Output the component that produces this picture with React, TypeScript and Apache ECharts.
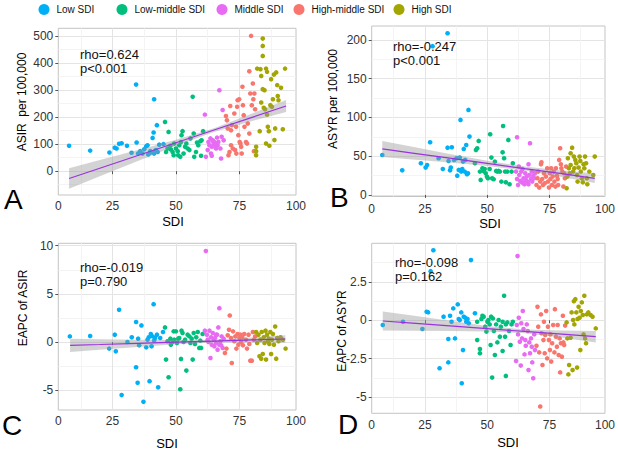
import React, { useEffect, useRef } from 'react';
import * as echarts from 'echarts';

const groups = ['Low SDI', 'Low-middle SDI', 'Middle SDI', 'High-middle SDI', 'High SDI'];
const groupColors = ['#00B0F6', '#00BF7D', '#E76BF3', '#F8766D', '#A3A500'];

const xMin = 3.65;
const xMax = 97.3;
const xTickValues = [25, 50, 75];
const xMinorValues = [12.5, 37.5, 62.5, 87.5];
const xLabelTexts = ['0', '25', '50', '75', '100'];

// ---------- Panel A: ASIR per 100,000 ----------
const aLow = [[7.9,94],[16.2,76],[23.8,69],[25.9,87],[26.6,84],[27.6,101],[28.6,103],[30.7,94],[32.5,68],[34.5,106],[34.3,320],[35.1,65],[35.9,74],[36.8,65],[37.5,81],[38.3,92],[39.1,62],[39.9,74],[40.1,69],[40.8,123],[41.2,143],[41.4,266],[41.4,65],[41.7,74],[42.1,78],[42.5,170],[42.8,71],[43.4,98],[45.1,100],[38.8,96]];
const aLowMid = [[45.7,182],[47.1,145],[46.1,71],[46.7,84],[47.8,94],[48,80],[48.7,71],[49.1,59],[49.3,102],[50,84],[50.7,74],[50.9,59],[51.3,96],[51.7,53],[52,108],[52.2,133],[52.6,148],[53,65],[53.6,90],[54.1,102],[54.6,84],[55.3,78],[55.7,121],[56.6,275],[57,139],[57.2,53],[57.9,71],[58.3,106],[58.8,96],[59.6,111],[60.1,114],[60.7,148],[59.9,57]];
const aMid = [[61.4,209],[61.8,53],[62.5,78],[62.8,108],[63.2,96],[63.6,121],[63.8,65],[64.1,57],[64.5,114],[64.9,102],[65.1,108],[65.4,90],[65.8,84],[66.2,124],[66.4,96],[67.1,299],[67.8,47],[68,127],[68.4,226],[68.8,114],[67.5,84],[64.1,90],[65.8,102],[64.6,111],[66.7,108]];
const aHighMid = [[69.7,204],[70.1,188],[70.4,158],[70.7,59],[71.1,71],[71.4,241],[71.7,96],[72,170],[72.4,84],[73,213],[73.3,78],[73.7,164],[74.1,238],[74.3,262],[74.6,133],[74.9,266],[75.1,108],[75.4,102],[75.7,90],[75.9,65],[76.2,312],[76.4,244],[76.7,207],[77,164],[77.6,108],[78.3,176],[78.9,369],[79.3,287],[79.6,500],[79.9,244],[80.3,324],[80.5,266],[80.9,287],[81.2,229],[80.7,74],[78.9,139],[78,102],[73.8,65],[71.7,151]];
const aHigh = [[81.6,90],[81.6,74],[81.6,59],[82,379],[83.3,377],[83,148],[83.6,352],[84.2,490],[84.2,463],[84.2,426],[84.2,303],[84.9,299],[85.5,379],[85.9,367],[84.6,234],[85.1,229],[85.5,102],[86.2,164],[86.6,148],[86.8,94],[87.2,244],[87.5,340],[87.8,238],[88.2,266],[88.6,357],[88.8,115],[89.1,158],[89.5,365],[89.9,318],[90.1,278],[90.4,262],[91.4,308],[92.1,155],[93,379],[85.9,209],[83.6,254]];
const aBandX = [7.9, 20, 35, 50, 65, 80, 93.4];
const aFit = [-27, 11, 58, 105, 152, 199, 241];
const aLower = [-65, -19, 38, 94, 145, 185, 219];
const aUpper = [11, 41, 78, 116, 159, 213, 263];

// ---------- Panel B: ASYR per 100,000 ----------
const bLow = [[7.9,51.6],[15.9,31.8],[23.4,40.9],[25.3,35.3],[25.9,38.7],[27.1,68],[28.1,192],[30.5,47.3],[32.2,33.5],[34.1,61],[34.1,208.6],[34.5,43.9],[35.1,31.8],[35.4,35.3],[35.8,61.5],[36.7,45.2],[37.7,47.3],[38,24.9],[38.6,32.3],[39,48.2],[39.3,96.8],[39.6,30.1],[40,33.5],[40.3,43],[40.6,59.4],[41,30.1],[41.6,64.5],[41.9,26.7],[42.3,28],[42.5,109.7],[42.9,75.3],[41.2,45.2]];
const bLowMid = [[45.1,40.9],[45.5,58.1],[46,60.2],[46.6,69.7],[47.1,30.1],[47.4,19.4],[48.1,34.4],[48.6,31],[49,33.5],[49.4,28],[49.9,23.7],[50.3,21.5],[51,33.5],[51.2,78.3],[51.7,48.2],[52,21.5],[52.6,20.2],[53.1,43],[53.6,31],[54.1,30.1],[54.6,31],[55.1,30.1],[55.7,17.2],[56.2,55],[56.4,89],[56.8,47.3],[57.2,30.1],[57.5,16.3],[58.1,30.1],[58.5,71],[59,13.8],[59.8,30.1],[60.3,40.9]];
const bMid = [[62,74.4],[61.6,30.1],[62,20.6],[62.4,12.9],[62.7,36.6],[62.9,25.8],[63.3,18.1],[63.7,30.1],[64,16.3],[64.2,33.5],[64.6,21.5],[65,13.8],[65.3,28],[65.5,19.4],[65.9,23.7],[66.3,17.2],[66.6,39.6],[66.9,25.8],[67.2,66.7],[67.6,20.6],[67.9,30.1],[68.1,17.2],[68.5,24.9],[68.9,21.5],[69.2,28],[66.6,13.8],[64.6,15.1]];
const bHighMid = [[69.8,12.9],[70.2,21.5],[70.5,30.1],[70.9,9.5],[71.3,17.2],[71.6,39.6],[71.8,42.2],[72.1,20.6],[72.4,12.9],[72.8,28],[73.1,15.1],[73.6,23.7],[74.1,34.4],[74.4,17.2],[74.8,9.5],[75.2,28],[75.4,20.6],[75.7,34.4],[76,12.9],[76.3,23.7],[76.7,30.1],[77,17.2],[77.4,10.8],[77.6,34.4],[78,24.9],[78.3,20.6],[78.5,12.9],[78.9,45.2],[79.3,60.2],[79.6,39.6],[79.8,34.4],[80.2,30.1],[80.6,10.8],[80.9,28],[81.2,21.5],[81.7,36.6]];
const bHigh = [[81.9,8.6],[82.2,23.7],[82.4,47.3],[82.8,34.4],[83.2,28],[83.5,38.7],[84.1,61],[84.5,30.1],[84.8,49.5],[85,34.4],[85.4,45.2],[85.8,40.9],[86.1,25.8],[86.3,17.2],[86.7,35.3],[87.1,49.5],[87.4,43.9],[87.6,30.1],[88,21.5],[88.4,16.3],[88.7,39.6],[89,34.4],[89.3,49.5],[89.7,40.9],[90,21.5],[90.2,13.8],[91,30.1],[92.6,25.8],[93.2,49.5],[83.5,53.8]];
const bBandX = [7.9, 20, 35, 50, 65, 80, 93.2];
const bFit = [59.4, 54.0, 47.4, 40.7, 34.0, 27.4, 21.5];
const bLower = [49.1, 45.8, 41.8, 37.3, 31.4, 23.3, 15.3];
const bUpper = [69.7, 62.2, 53.0, 44.1, 36.6, 31.5, 27.7];

// ---------- Panel C: EAPC of ASIR ----------
const cLow = [[8.2,0.59],[16.2,0.63],[23.7,-0.68],[25.9,0.77],[26.3,-0.96],[27.6,3.35],[28.6,-5.5],[30.9,0.01],[32.6,0.49],[34.3,2.08],[34.3,-2.61],[34.9,-4.23],[35.1,0.35],[35.5,-0.34],[36.4,1.73],[37.2,-6.2],[38.3,-0.55],[38.8,0.25],[39.3,0.49],[39.6,-4.06],[40.1,0.84],[40.4,-0.44],[40.8,0.59],[41.2,3.93],[41.4,0.15],[41.8,0.42],[42.5,0.77],[43,-4.7],[43.8,0.42],[44.9,1.04]];
const cLowMid = [[45.7,1.52],[46.1,-1.82],[46.7,0.08],[47.1,-3.65],[47.8,0.35],[48,-0.27],[48.7,0.01],[49.1,1.11],[49.3,0.25],[50,1.11],[50.4,-0.1],[50.9,0.35],[51.3,0.42],[51.7,-4.9],[52,-1.75],[52.2,1.18],[52.6,0.94],[53,0.01],[53.6,0.25],[54.1,-2.96],[54.6,0.77],[55.3,0.59],[55.7,-0.1],[56.2,0.35],[56.6,-1.82],[57,0.94],[57.5,-0.2],[58,0.49],[58.6,1.04],[59.2,-0.61],[59.6,0.15],[59.9,-0.61],[60.5,0.84]];
const cMid = [[61.8,9.45],[61.4,1.18],[62.2,0.77],[62.5,0.25],[62.8,0.01],[63.2,1.18],[63.6,-1.65],[63.8,0.49],[64.1,-0.27],[64.5,0.94],[64.9,0.25],[65.1,-0.44],[65.4,0.42],[65.8,-0.1],[66.2,0.77],[66.4,-0.79],[66.7,1.52],[67.1,3.52],[67.5,0.08],[67.8,-0.34],[68,0.59],[68.4,-0.61],[68.8,0.35],[67.1,-0.27],[65.8,0.77]];
const cHighMid = [[69.3,-1.13],[69.9,-0.68],[70.4,0.7],[70.9,1.28],[71.2,2.76],[71.7,0.42],[72,-2.17],[72.5,1.11],[73,0.08],[73.4,0.59],[73.8,-0.68],[74.3,0.84],[74.6,-0.27],[75,0.42],[75.4,0.77],[75.7,0.01],[76.1,0.49],[76.4,-0.34],[76.9,0.84],[77.6,0.25],[78,-0.68],[78.6,0.77],[78.9,-0.2],[79.3,-1.93],[79.9,-1.93],[80.3,1.04],[80.7,0.25],[81.2,0.59]];
const cHigh = [[81.6,1.04],[82,-0.1],[82.5,0.77],[82.9,-1.48],[83.3,0.25],[83.6,-1.72],[83.8,1.04],[84.2,-1.24],[84.6,0.49],[84.9,-0.1],[85.3,1.18],[85.5,-1.82],[85.9,0.77],[86.2,0.08],[86.6,0.35],[86.8,-0.2],[87.2,1.04],[87.5,-1.24],[87.8,0.25],[88.2,0.84],[88.6,-0.27],[89.1,1.62],[89.5,-1.72],[89.9,0.42],[90.4,0.08],[91.2,0.49],[92.1,0.25],[93.2,-0.68]];
const cBandX = [8.3, 20, 35, 50, 65, 80, 93.1];
const cFit = [-0.34, -0.25, -0.13, -0.015, 0.10, 0.22, 0.32];
const cLower = [-1.03, -0.80, -0.51, -0.23, -0.05, -0.04, -0.08];
const cUpper = [0.35, 0.30, 0.25, 0.21, 0.25, 0.48, 0.72];

// ---------- Panel D: EAPC of ASYR ----------
const dLow = [[8.1,-0.31],[16.2,-0.1],[24,-0.57],[25.7,0.55],[26.3,0.51],[27.3,3.19],[28.4,4.55],[30.9,-3.12],[32.5,0.23],[34.4,-1.22],[34.4,-2.74],[35.1,0.29],[35.7,-0.1],[36.4,0.77],[37.1,-1.18],[38.2,1.03],[38.6,0.08],[39,0.01],[39.6,0.51],[39.8,-4.1],[40.3,-1.94],[40.6,0.23],[41.2,0.16],[41.6,-0.1],[42.1,0.08],[42.6,-0.2],[43.5,3.91],[45.1,0.45]];
const dLowMid = [[46,-0.1],[46,-1.29],[47.1,-1.87],[47.1,-2.15],[47.7,0.08],[48.1,0.29],[48.6,0.23],[49.2,-0.42],[49.7,-0.74],[50.1,-0.1],[50.5,0.01],[51,-0.27],[51.4,-1.61],[51.6,0.23],[52,-3.73],[52.3,0.12],[52.7,-0.7],[53.1,-2.26],[53.6,-0.27],[54.1,-1.44],[54.6,0.01],[55.1,-1.07],[55.5,-0.42],[56.2,-2.0],[56.8,1.59],[57.2,-1.07],[57.5,-3.62],[58.1,-0.14],[58.8,-0.7],[59.4,-1.61],[59.8,-0.27],[60.3,-0.1],[57.5,-0.27],[56.2,-0.1]];
const dMid = [[61.6,-2.65],[61.9,-0.31],[62.2,4.17],[62.4,-0.92],[62.7,0.16],[63.1,-1.4],[63.5,-2.95],[63.7,-0.2],[64,-1.18],[64.3,0.6],[64.6,-0.57],[65,-2.22],[65.3,-1.29],[65.5,-1.66],[65.9,-0.27],[66.3,-0.7],[66.6,-3.24],[66.9,-1.44],[67.2,-2.15],[67.6,-1.18],[67.9,-1.72],[68.1,-2.74],[68.5,-3.77],[68.9,-0.92],[69.2,-1.94]];
const dHighMid = [[69.8,-1.66],[70.2,0.87],[70.5,-0.42],[70.9,-2.09],[71.3,-5.61],[71.6,0.38],[71.8,-0.85],[72.2,-2.91],[72.6,-1.29],[72.8,-0.1],[73.1,-2.15],[73.3,-0.96],[73.7,0.6],[74.1,-2.48],[74.4,-0.42],[74.8,-1.29],[75.2,-1.94],[75.4,-0.92],[75.7,-2.69],[76.1,-1.5],[76.5,-0.31],[77,-2.09],[77.2,0.72],[77.6,-1.07],[78,-1.72],[78.3,-0.31],[78.7,-2.26],[79.1,-1.18],[79.3,-3.39],[79.6,-1.5],[80,-2.37],[80.4,0.29],[80.6,-1.44],[80.9,-1.61],[81.3,-0.35]];
const dHigh = [[81.9,-0.14],[82.2,-1.18],[82.6,-3.52],[82.9,-2.91],[83.5,-1.14],[83.9,0.51],[84.3,-3.24],[84.5,0.01],[84.8,1.24],[85,-0.27],[85.4,1.37],[85.8,0.51],[86.1,-3.08],[86.3,0.08],[86.7,0.87],[87.1,0.16],[87.4,-1.94],[87.6,0.6],[88,1.16],[88.4,0.34],[88.7,-0.92],[89,1.59],[89.3,-1.18],[89.7,-1.5],[90,0.38],[90.6,0.51],[91.5,0.34],[92.3,0.23],[93.6,-0.53]];
const dBandX = [8.1, 20, 35, 50, 65, 80, 93.6];
const dFit = [-0.05, -0.19, -0.37, -0.55, -0.73, -0.90, -1.07];
const dLower = [-0.67, -0.68, -0.70, -0.73, -0.85, -1.13, -1.44];
const dUpper = [0.57, 0.30, -0.04, -0.37, -0.61, -0.67, -0.70];

const yTitles = ['ASIR  per 100,000', 'ASYR per 100,000', 'EAPC of ASIR', 'EAPC of ASYR'];
const rhoTexts = ['rho=0.624', 'rho=-0.247', 'rho=-0.019', 'rho=-0.098'];
const pTexts = ['p<0.001', 'p<0.001', 'p=0.790', 'p=0.162'];
const panelLetters = ['A', 'B', 'C', 'D'];

const aYTicks = [0, 100, 200, 300, 400, 500];
const bYTicks = [0, 50, 100, 150, 200];
const cYTicks = [-5, 0, 5, 10];
const dYTicks = [-5, -2.5, 0, 2.5];

const FONT = '"Liberation Sans", Arial, Helvetica, sans-serif';

const panels = [
  {
    grid: { left: 58.3, top: 28.3, width: 237.7, height: 166.7 },
    yMin: -88, yMax: 528, yTicks: aYTicks, yMinor: [-50, 50, 150, 250, 350, 450],
    groupsData: [aLow, aLowMid, aMid, aHighMid, aHigh],
    band: { x: aBandX, fit: aFit, lo: aLower, hi: aUpper },
    stat: { x: 80, y: 47 }, letter: { x: 4, y: 199 }, yTitle: { x: 22, y: 102 }, xTitle: { x: 173, y: 221 },
    xLabelMargin: 5,
  },
  {
    grid: { left: 371.7, top: 26, width: 240, height: 170.5 },
    yMin: -2, yMax: 218, yTicks: bYTicks, yMinor: [25, 75, 125, 175],
    groupsData: [bLow, bLowMid, bMid, bHighMid, bHigh],
    band: { x: bBandX, fit: bFit, lo: bLower, hi: bUpper },
    stat: { x: 393, y: 39 }, letter: { x: 330, y: 197 }, yTitle: { x: 333, y: 99 }, xTitle: { x: 490, y: 223 },
    xLabelMargin: 6,
  },
  {
    grid: { left: 58.3, top: 243.3, width: 237.7, height: 166.7 },
    yMin: -7.05, yMax: 10.25, yTicks: cYTicks, yMinor: [-2.5, 2.5, 7.5],
    groupsData: [cLow, cLowMid, cMid, cHighMid, cHigh],
    band: { x: cBandX, fit: cFit, lo: cLower, hi: cUpper },
    stat: { x: 80, y: 260 }, letter: { x: 2, y: 425 }, yTitle: { x: 23, y: 308 }, xTitle: { x: 167, y: 443 },
    xLabelMargin: 5,
  },
  {
    grid: { left: 371.7, top: 243.3, width: 240, height: 170 },
    yMin: -6.05, yMax: 5.0, yTicks: dYTicks, yMinor: [-3.75, -1.25, 1.25, 3.75],
    groupsData: [dLow, dLowMid, dMid, dHighMid, dHigh],
    band: { x: dBandX, fit: dFit, lo: dLower, hi: dUpper },
    stat: { x: 395, y: 255 }, letter: { x: 338, y: 424 }, yTitle: { x: 342, y: 331 }, xTitle: { x: 508, y: 442 },
    xLabelMargin: 6,
  },
];

const legendCenters = [44, 122, 222, 299, 399];

function xLabelFormatter(v: number) {
  const vals = [xMin, 25, 50, 75, xMax];
  let best = 0;
  for (let i = 1; i < vals.length; i++) if (Math.abs(vals[i] - v) < Math.abs(vals[best] - v)) best = i;
  return xLabelTexts[best];
}

function buildOption() {
  const grid: any[] = [];
  const xAxis: any[] = [];
  const yAxis: any[] = [];
  const series: any[] = [];
  const graphic: any[] = [];

  panels.forEach((p, gi) => {
    grid.push({ ...p.grid, show: true, backgroundColor: '#ffffff', borderColor: '#c4c4c4', borderWidth: 1 });
    xAxis.push({
      type: 'value', gridIndex: gi, min: xMin, max: xMax,
      axisLine: { show: false },
      axisTick: { show: true, length: 3, lineStyle: { color: '#555' }, customValues: xTickValues },
      axisLabel: {
        show: true, customValues: [xMin, ...xTickValues, xMax], formatter: xLabelFormatter,
        color: '#333', fontSize: 12, fontFamily: FONT, margin: p.xLabelMargin, showMinLabel: true, showMaxLabel: true,
      },
      splitLine: { show: true, lineStyle: { color: '#e4e4e4', width: 1 } },
    });
    xAxis.push({
      type: 'value', gridIndex: gi, min: xMin, max: xMax, position: 'bottom',
      axisLine: { show: false }, axisLabel: { show: false },
      axisTick: { show: false, customValues: xMinorValues },
      splitLine: { show: true, lineStyle: { color: '#f1f1f1', width: 0.8 } },
    });
    yAxis.push({
      type: 'value', gridIndex: gi, min: p.yMin, max: p.yMax,
      axisLine: { show: false },
      axisTick: { show: true, length: 3, lineStyle: { color: '#555' }, customValues: p.yTicks },
      axisLabel: { show: true, customValues: p.yTicks, color: '#333', fontSize: 12, fontFamily: FONT, margin: 5, formatter: (v: number) => String(v) },
      splitLine: { show: true, lineStyle: { color: '#e4e4e4', width: 1 } },
    });
    yAxis.push({
      type: 'value', gridIndex: gi, min: p.yMin, max: p.yMax, position: 'left',
      axisLine: { show: false }, axisLabel: { show: false },
      axisTick: { show: false, customValues: p.yMinor },
      splitLine: { show: true, lineStyle: { color: '#f1f1f1', width: 0.8 } },
    });

    const xi = gi * 2;
    const yi = gi * 2;
    p.groupsData.forEach((d, k) => {
      series.push({
        type: 'scatter', name: groups[k], xAxisIndex: xi, yAxisIndex: yi, data: d,
        symbol: 'circle', symbolSize: 4.6, itemStyle: { color: groupColors[k], opacity: 1 }, z: 2,
      });
    });
    const b = p.band;
    series.push({
      type: 'custom', name: 'band' + gi, xAxisIndex: xi, yAxisIndex: yi, silent: true, z: 3,
      data: b.x.map((x, i) => [x, b.lo[i], b.hi[i]]),
      renderItem: (params: any, api: any) => {
        if (params.dataIndex !== 0) return { type: 'group', children: [] };
        const pts: number[][] = [];
        for (let i = 0; i < b.x.length; i++) pts.push(api.coord([b.x[i], b.hi[i]]));
        for (let i = b.x.length - 1; i >= 0; i--) pts.push(api.coord([b.x[i], b.lo[i]]));
        return { type: 'polygon', shape: { points: pts }, style: { fill: 'rgba(150,150,150,0.42)' } };
      },
    });
    series.push({
      type: 'line', name: 'fit' + gi, xAxisIndex: xi, yAxisIndex: yi, z: 4, silent: true,
      data: b.x.map((x, i) => [x, b.fit[i]]), showSymbol: false, symbol: 'none',
      lineStyle: { color: '#9A32E0', width: 1.2 },
    });

    graphic.push({
      type: 'text', x: p.stat.x, y: p.stat.y, z: 10,
      style: { text: rhoTexts[gi] + '\n' + pTexts[gi], fontSize: 13, fontFamily: FONT, fill: '#111', lineHeight: 14, align: 'left', verticalAlign: 'top' },
    });
    graphic.push({
      type: 'text', x: p.letter.x, y: p.letter.y, z: 10,
      style: { text: panelLetters[gi], fontSize: 28, fontFamily: FONT, fill: '#000', align: 'left', verticalAlign: 'middle' },
    });
    graphic.push({
      type: 'text', x: p.yTitle.x, y: p.yTitle.y, rotation: Math.PI / 2, z: 10,
      style: { text: yTitles[gi], fontSize: 12, fontFamily: FONT, fill: '#000', align: 'center', verticalAlign: 'middle' },
    });
    graphic.push({
      type: 'text', x: p.xTitle.x, y: p.xTitle.y, z: 10,
      style: { text: 'SDI', fontSize: 13, fontFamily: FONT, fill: '#000', align: 'center', verticalAlign: 'middle' },
    });
  });

  const legend = groups.map((g, k) => ({
    left: legendCenters[k] - 5.5, top: 4, data: [g], icon: 'circle', itemWidth: 11, itemHeight: 11,
    itemGap: 0, padding: 0, selectedMode: false,
    textStyle: { fontSize: 10, fontFamily: FONT, color: '#111', padding: [0, 0, 0, 2] },
  }));

  return {
    animation: false,
    backgroundColor: '#ffffff',
    textStyle: { fontFamily: FONT },
    legend, grid, xAxis, yAxis, series, graphic,
  };
}

export default function App() {
  const ref = useRef<HTMLDivElement>(null);
  useEffect(() => {
    if (!ref.current) return;
    const chart = echarts.init(ref.current, null, { renderer: 'svg' });
    chart.setOption(buildOption() as any);
    return () => chart.dispose();
  }, []);
  return <div ref={ref} style={{ position: 'absolute', left: 0, top: 0, width: 618, height: 453 }} />;
}
